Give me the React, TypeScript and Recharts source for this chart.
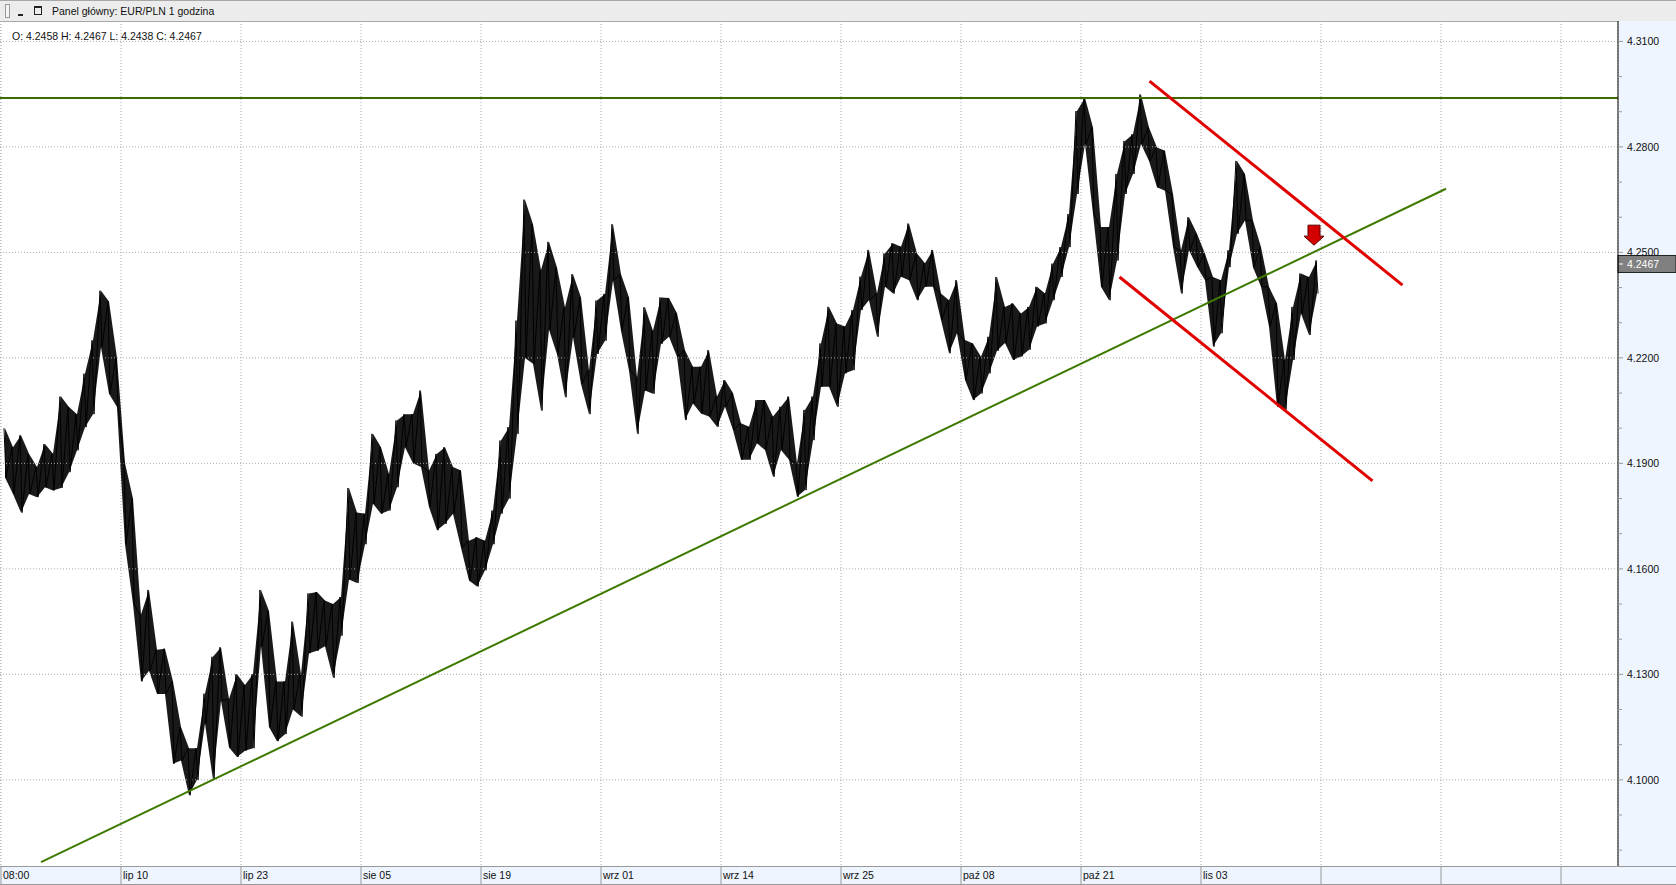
import React from "react";
import { ComposedChart, Line, Area, XAxis, YAxis, CartesianGrid, ReferenceLine, ReferenceDot } from "recharts";

// EUR/PLN 1h, each slot = 16 hours, high / low of the slot
const highs = [
  4.2, 4.1946, 4.198, 4.1927, 4.189, 4.1955, 4.1927, 4.209, 4.206, 4.204,
  4.2155, 4.225, 4.2391, 4.236, 4.22, 4.19, 4.18, 4.147, 4.154, 4.137,
  4.1373, 4.128, 4.115, 4.109, 4.109, 4.1245, 4.135, 4.1377, 4.123, 4.13,
  4.127, 4.13, 4.154, 4.148, 4.128, 4.128, 4.145, 4.13, 4.153, 4.1534,
  4.151, 4.15, 4.152, 4.183, 4.176, 4.1757, 4.1984, 4.1946, 4.187, 4.2022,
  4.204, 4.204, 4.2107, 4.188, 4.1927, 4.1946, 4.189, 4.188, 4.168, 4.169,
  4.168, 4.1766, 4.1965, 4.2003, 4.2306, 4.265, 4.258, 4.245, 4.253, 4.2457,
  4.2344, 4.2438, 4.2372, 4.2164, 4.2363, 4.2382, 4.258, 4.2438, 4.2372, 4.2145,
  4.2344, 4.2277, 4.2372, 4.237, 4.2327, 4.2222, 4.2175, 4.2175, 4.2222, 4.209,
  4.2137, 4.21, 4.2014, 4.2004, 4.208, 4.208, 4.2033, 4.2061, 4.209, 4.19,
  4.2052, 4.209, 4.2241, 4.2345, 4.2298, 4.2289, 4.2336, 4.2431, 4.2507, 4.2383,
  4.2497, 4.2526, 4.2516, 4.2582, 4.2497, 4.2469, 4.2507, 4.2383, 4.2364, 4.2421,
  4.2251, 4.2241, 4.2203, 4.226, 4.243, 4.2345, 4.2355, 4.2326, 4.2345, 4.2402,
  4.2383, 4.2468, 4.2515, 4.2609, 4.2902, 4.294, 4.2855, 4.2572, 4.2572, 4.2723,
  4.2817, 4.2836, 4.2949, 4.2855, 4.2798, 4.2789, 4.2666, 4.2506, 4.26, 4.2553,
  4.2496, 4.243, 4.2421, 4.2506, 4.276, 4.2723, 4.2591, 4.2515, 4.2402, 4.2355,
  4.2194, 4.2345, 4.244, 4.243, 4.2477,
];
const lows = [
  4.186, 4.1813, 4.176, 4.1813, 4.1804, 4.1832, 4.1823, 4.183, 4.1875, 4.1937,
  4.2003, 4.204, 4.223, 4.2098, 4.206, 4.167, 4.15, 4.128, 4.131, 4.1244,
  4.1244, 4.1046, 4.1055, 4.0956, 4.1, 4.116, 4.1, 4.1225, 4.1092, 4.1065,
  4.1083, 4.109, 4.138, 4.115, 4.111, 4.113, 4.12, 4.118, 4.136, 4.1367,
  4.138, 4.129, 4.141, 4.157, 4.156, 4.167, 4.1785, 4.1757, 4.1766, 4.1832,
  4.1946, 4.19, 4.189, 4.1776, 4.171, 4.1728, 4.1757, 4.166, 4.1567, 4.155,
  4.1596, 4.167, 4.1757, 4.18, 4.1984, 4.22, 4.2183, 4.205, 4.228, 4.221,
  4.2088, 4.2259, 4.2126, 4.204, 4.2211, 4.2249, 4.242, 4.2277, 4.2164, 4.1984,
  4.2107, 4.2098, 4.224, 4.226, 4.2203, 4.2023, 4.207, 4.2042, 4.2033, 4.2004,
  4.2061, 4.1995, 4.191, 4.191, 4.1957, 4.1938, 4.1862, 4.1938, 4.191, 4.1805,
  4.1824, 4.1966, 4.2118, 4.2118, 4.2061, 4.2156, 4.2165, 4.2336, 4.2364, 4.226,
  4.2402, 4.2383, 4.2431, 4.2421, 4.2364, 4.2402, 4.2402, 4.2308, 4.2213, 4.227,
  4.2137, 4.208, 4.2099, 4.2156, 4.222, 4.2242, 4.2194, 4.2204, 4.2223, 4.2289,
  4.2298, 4.2364, 4.243, 4.2515, 4.2666, 4.2808, 4.2609, 4.2402, 4.2364, 4.2477,
  4.2666, 4.2723, 4.2808, 4.276, 4.2685, 4.2675, 4.2515, 4.2383, 4.2506, 4.2459,
  4.2421, 4.2232, 4.227, 4.2458, 4.2553, 4.2591, 4.2458, 4.2402, 4.2289, 4.2062,
  4.2053, 4.2194, 4.2326, 4.2265, 4.2383,
];

const xTicks = [0, 240, 480, 720, 960, 1200, 1440, 1680, 1920, 2160, 2400, 2640, 2880, 3120];
const xLabels = ["08:00", "lip 10", "lip 23", "sie 05", "sie 19", "wrz 01", "wrz 14", "wrz 25", "paź 08", "paź 21", "lis 03", "", "", ""];
const yTicks = [4.08, 4.09, 4.1, 4.11, 4.12, 4.13, 4.14, 4.15, 4.16, 4.17, 4.18, 4.19, 4.2, 4.21, 4.22, 4.23, 4.24, 4.25, 4.26, 4.27, 4.28, 4.29, 4.3, 4.31];
const gridY = [4.1, 4.13, 4.16, 4.19, 4.22, 4.25, 4.28, 4.31];

const resistance = 4.2939;
const trendUp = [{ x: 80, y: 4.0766 }, { x: 2890, y: 4.2681 }];
const channelTop = [{ x: 2297, y: 4.2987 }, { x: 2803, y: 4.2407 }];
const channelBottom = [{ x: 2237, y: 4.243 }, { x: 2743, y: 4.185 }];
const lastPrice = 4.2467;
const signal = { x: 2626, y: 4.2549 };

// zigzag through each slot's high and low (near-vertical strokes like OHLC bars)
const ticksData = highs.flatMap((h, i) => [
  { t: i * 16 + 6, px: h },
  { t: i * 16 + 10, px: lows[i] },
]);
// the high-low envelope of each slot
const bandData = highs.map((h, i) => ({ t: i * 16 + 8, band: [lows[i], h] }));

const FONT = "'Liberation Sans', Arial, sans-serif";

function PriceTick({ x, y, payload }: any) {
  const v = payload.value;
  const major = (Math.round(v * 100) - 410) % 3 === 0;
  return (
    <g>
      <line x1={x} x2={x + (major ? 5 : 4)} y1={y} y2={y} stroke="#999" />
      {major && (
        <text x={x + 9} y={y + 4} fontSize={10.5} fill="#111" fontFamily={FONT}>
          {v.toFixed(4)}
        </text>
      )}
    </g>
  );
}

function DateTick({ x, y, payload }: any) {
  const label = xLabels[xTicks.indexOf(payload.value)] ?? "";
  return (
    <g>
      <line x1={x} x2={x} y1={y} y2={y + 18} stroke="#999" />
      <text x={x + 2} y={y + 13} fontSize={10.5} fill="#111" fontFamily={FONT}>
        {label}
      </text>
    </g>
  );
}

function LastPriceLabel(props: any) {
  const vb = props.viewBox ?? { x: 0, y: 0, width: 0 };
  const left = vb.x + vb.width;
  return (
    <g>
      <rect x={left} y={vb.y - 8.5} width={58} height={17} fill="#808080" stroke="#222" />
      <line x1={left + 1} x2={left + 5} y1={vb.y} y2={vb.y} stroke="#fff" />
      <text x={left + 9} y={vb.y + 4} fontSize={10.5} fill="#fff" fontFamily={FONT}>
        {lastPrice.toFixed(4)}
      </text>
    </g>
  );
}

function SignalArrow({ cx, cy }: any) {
  const d = `M${cx - 6},${cy - 10} H${cx + 6} V${cy + 1} H${cx + 10} L${cx},${cy + 10} L${cx - 10},${cy + 1} H${cx - 6} Z`;
  return <path d={d} fill="#d40000" stroke="#5a0000" strokeWidth={1} />;
}

export default function App() {
  return (
    <div style={{ position: "absolute", left: 0, top: 0, width: 1676, height: 885, background: "#fff", overflow: "hidden", fontFamily: FONT }}>
      {/* title bar */}
      <div style={{ position: "absolute", left: 0, top: 0, width: 1676, height: 22, boxSizing: "border-box", background: "#ececec", borderTop: "1px solid #a8a8a8", borderBottom: "1px solid #a8a8a8" }}>
        <div style={{ position: "absolute", left: 5, top: 3, width: 3, height: 12, border: "1px solid #999", background: "#f6f6f6" }} />
        <div style={{ position: "absolute", left: 18, top: 13, width: 5, height: 2, background: "#222" }} />
        <div style={{ position: "absolute", left: 34, top: 5, width: 6, height: 6, border: "1px solid #222", borderTopWidth: 2 }} />
        <div style={{ position: "absolute", left: 52, top: 4, fontSize: 10.5, color: "#111" }}>Panel główny: EUR/PLN 1 godzina</div>
      </div>
      {/* price scale and time scale panels */}
      <div style={{ position: "absolute", left: 1619, top: 21, width: 57, height: 845, background: "#eef5fe" }} />
      <div style={{ position: "absolute", left: 0, top: 866, width: 1676, height: 19, boxSizing: "border-box", background: "#eef5fe", borderTop: "1px solid #999", borderBottom: "1px solid #999" }} />

      <div style={{ position: "absolute", left: 0, top: 21 }}>
        <ComposedChart width={1676} height={863} margin={{ top: 0, right: 0, bottom: 0, left: 0 }}>
          <CartesianGrid horizontal={false} stroke="#aaa" strokeDasharray="1 2" />
          {gridY.map((v) => (
            <ReferenceLine key={v} y={v} stroke="#aaa" strokeDasharray="1 2" />
          ))}
          <XAxis type="number" dataKey="t" domain={[-2, 3234]} ticks={xTicks} allowDataOverflow height={18} tickSize={0} tickMargin={0} tickLine={false} axisLine={false} tick={<DateTick />} interval={0} />
          <YAxis orientation="right" domain={[4.0755, 4.3158]} allowDataOverflow ticks={yTicks} width={58} tickSize={0} tickMargin={0} tickLine={false} axisLine={{ stroke: "#000" }} tick={<PriceTick />} interval={0} />
          <Area data={bandData} dataKey="band" type="linear" stroke="none" fill="#000" fillOpacity={0.9} isAnimationActive={false} />
          <Line data={ticksData} dataKey="px" type="linear" stroke="#000" strokeWidth={1} dot={false} isAnimationActive={false} />
          <ReferenceLine y={resistance} stroke="#3d6b00" strokeWidth={2} />
          <ReferenceLine segment={trendUp} stroke="#3f7a00" strokeWidth={2} ifOverflow="visible" />
          <ReferenceLine segment={channelTop} stroke="#e00000" strokeWidth={3} ifOverflow="visible" />
          <ReferenceLine segment={channelBottom} stroke="#e00000" strokeWidth={3} ifOverflow="visible" />
          <ReferenceLine y={lastPrice} stroke="none" label={LastPriceLabel} />
          <ReferenceDot x={signal.x} y={signal.y} r={0} shape={(p: any) => <SignalArrow cx={p.cx} cy={p.cy} />} />
        </ComposedChart>
      </div>

      <div style={{ position: "absolute", left: 12, top: 30, fontSize: 10.5, color: "#111" }}>O: 4.2458 H: 4.2467 L: 4.2438 C: 4.2467</div>
    </div>
  );
}
